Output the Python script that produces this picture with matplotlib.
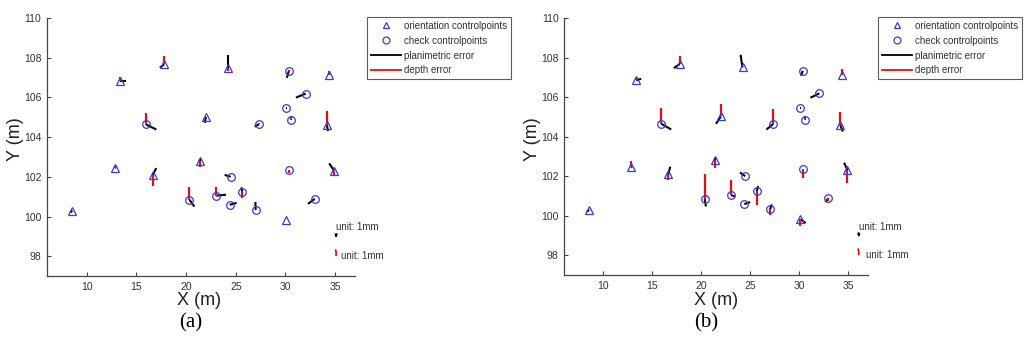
import matplotlib
matplotlib.use("Agg")
import matplotlib.pyplot as plt
from matplotlib.lines import Line2D

plt.rcParams["font.family"] = ["Liberation Sans", "DejaVu Sans"]

# orientation control points (m)
x_orient = [8.55, 12.83, 13.37, 16.63, 17.80, 21.38, 21.99, 24.20, 30.10, 34.16, 34.39, 34.90]
y_orient = [100.30, 102.44, 106.85, 102.09, 107.67, 102.81, 105.02, 107.50, 99.83, 104.60, 107.13, 102.31]

# check control points (m)
x_check = [15.93, 20.34, 23.03, 24.38, 24.48, 25.66, 27.00, 27.34, 30.10, 30.34, 30.37, 30.57, 32.03, 32.94]
y_check = [104.65, 100.84, 101.05, 100.59, 102.00, 101.25, 100.33, 104.65, 105.46, 107.33, 102.34, 104.85, 106.19, 100.89]

# drawn error vectors (plot units): planimetric dx, dy and depth dz
# panel (a)
a_orient_dx = [-0.20, 0.10, 0.60, 0.37, -0.44, 0.00, -0.10, 0.00, 0.00, 0.13, 0.00, -0.50]
a_orient_dy = [-0.10, 0.05, 0.00, 0.35, -0.17, 0.08, -0.30, 0.64, 0.00, -0.29, 0.05, 0.37]
a_orient_dz = [0.00, 0.12, 0.20, -0.54, 0.42, -0.29, 0.00, -0.15, 0.00, 0.73, 0.22, -0.20]
a_check_dx = [1.08, 0.50, 0.98, 0.70, -0.60, -0.10, -0.03, -0.44, 0.05, -0.20, 0.00, 0.00, -0.98, -0.67]
a_check_dy = [-0.27, -0.34, 0.05, 0.10, 0.10, 0.22, 0.40, -0.12, 0.00, -0.34, 0.00, 0.00, -0.20, -0.25]
a_check_dz = [0.59, 0.64, 0.46, 0.00, 0.00, -0.30, 0.00, 0.05, 0.00, 0.05, -0.17, 0.20, 0.00, 0.00]
# panel (b)
b_orient_dx = [-0.20, 0.10, 0.50, 0.20, -0.60, 0.00, -0.50, -0.20, 0.54, 0.27, 0.00, -0.34]
b_orient_dy = [-0.10, 0.05, 0.08, 0.39, -0.20, 0.10, -0.37, 0.64, -0.20, -0.34, 0.05, 0.37]
b_orient_dz = [0.00, 0.34, 0.10, -0.30, 0.40, -0.39, 0.64, 0.00, -0.34, 0.66, 0.27, -0.64]
b_check_dx = [1.00, 0.13, 0.40, 0.60, -0.54, 0.13, 0.20, -0.70, 0.05, -0.17, 0.00, 0.00, -0.90, -0.27]
b_check_dy = [-0.29, -0.37, -0.08, 0.10, 0.19, 0.25, 0.24, -0.29, 0.00, -0.25, 0.00, 0.00, -0.22, -0.20]
b_check_dz = [0.80, 1.28, 0.76, 0.00, 0.00, -0.71, -0.27, 0.74, 0.00, 0.00, -0.44, 0.17, 0.00, -0.15]

panels = [
    ("(a)", a_orient_dx, a_orient_dy, a_orient_dz, a_check_dx, a_check_dy, a_check_dz, 35.1, 35.6),
    ("(b)", b_orient_dx, b_orient_dy, b_orient_dz, b_check_dx, b_check_dy, b_check_dz, 36.05, 36.8),
]

blue = "#3a3ad6"
txt = "#333333"

fig = plt.figure(figsize=(10.24, 3.4), dpi=100)
axes_pos = [[0.0459, 0.188, 0.3008, 0.759], [0.5508, 0.191, 0.2969, 0.756]]
leg_x = [0.3584, 0.8574]
lab_x = [0.194, 0.699]
cap_x = [0.186, 0.690]

for i, (cap, odx, ody, odz, cdx, cdy, cdz, ux, tx) in enumerate(panels):
    ax = fig.add_axes(axes_pos[i])
    xs = x_orient + x_check
    ys = y_orient + y_check
    dxs = odx + cdx
    dys = ody + cdy
    dzs = odz + cdz
    for x, y, dx, dy in zip(xs, ys, dxs, dys):
        if dx or dy:
            ax.plot([x, x + dx], [y, y + dy], color="black", lw=1.5, solid_capstyle="butt")
    for x, y, dz in zip(xs, ys, dzs):
        if dz:
            ax.plot([x, x], [y, y + dz], color="#e01010", lw=1.6, solid_capstyle="butt")
    ax.plot(x_orient, y_orient, "^", ms=5.5, mfc="none", mec=blue, mew=0.9, ls="none")
    ax.plot(x_check, y_check, "o", ms=5.5, mfc="none", mec=blue, mew=0.9, ls="none")

    # unit scale marks
    ax.plot([ux - 0.05, ux, ux + 0.05], [99.1, 99.0, 99.1], color="black", lw=1.3)
    ax.plot([ux - 0.05, ux, ux], [98.3, 98.2, 98.05], color="#e01010", lw=1.3)
    ax.text(ux, 99.2, "unit: 1mm", fontsize=7, color=txt, va="bottom", ha="left")
    ax.text(tx, 98.0, "unit: 1mm", fontsize=7, color=txt, va="center", ha="left")

    ax.set_xlim(6, 37)
    ax.set_ylim(97, 110)
    ax.set_xticks([10, 15, 20, 25, 30, 35])
    ax.set_yticks([98, 100, 102, 104, 106, 108, 110])
    ax.spines["top"].set_visible(False)
    ax.spines["right"].set_visible(False)
    for s in ("left", "bottom"):
        ax.spines[s].set_color("#444444")
        ax.spines[s].set_linewidth(0.9)
    ax.tick_params(direction="in", length=3, labelsize=7.5, colors="#444444", labelcolor=txt, pad=4)

    fig.text(0.015 if i == 0 else 0.52, 0.59, "Y (m)", rotation=90, fontsize=13,
             ha="center", va="center", color="#222222")
    fig.text(lab_x[i], 0.115, "X (m)", fontsize=13, ha="center", va="center", color="#222222")
    fig.text(cap_x[i], 0.05, cap, fontsize=15, family="Liberation Serif", ha="center", va="center")

    handles = [
        Line2D([], [], marker="^", ls="none", ms=5, mfc="none", mec=blue, mew=0.9),
        Line2D([], [], marker="o", ls="none", ms=5, mfc="none", mec=blue, mew=0.9),
        Line2D([], [], color="black", lw=1.3),
        Line2D([], [], color="#e01010", lw=1.3),
    ]
    labels = ["orientation controlpoints", "check controlpoints", "planimetric error", "depth error"]
    leg = fig.legend(handles, labels, loc="upper left", bbox_to_anchor=(leg_x[i], 0.95),
                     fontsize=7, frameon=True, fancybox=False, handlelength=3.1,
                     labelspacing=0.5, borderpad=0.4, handletextpad=0.35, borderaxespad=0)
    leg.get_frame().set_edgecolor("#333333")
    leg.get_frame().set_linewidth(0.8)
    for t in leg.get_texts():
        t.set_color(txt)

fig.savefig("out.png", dpi=100)
